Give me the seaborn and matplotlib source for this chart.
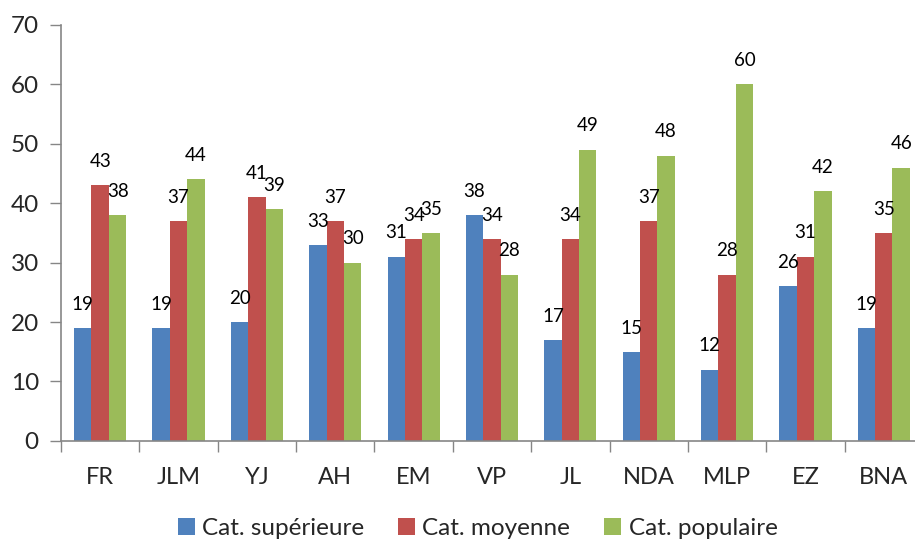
import pandas as pd
import matplotlib.pyplot as plt
import seaborn as sns

candidats = ["FR", "JLM", "YJ", "AH", "EM", "VP", "JL", "NDA", "MLP", "EZ", "BNA"]
cat_superieure = [19, 19, 20, 33, 31, 38, 17, 15, 12, 26, 19]
cat_moyenne = [43, 37, 41, 37, 34, 34, 34, 37, 28, 31, 35]
cat_populaire = [38, 44, 39, 30, 35, 28, 49, 48, 60, 42, 46]
series = ["Cat. supérieure", "Cat. moyenne", "Cat. populaire"]
colors = ["#4F81BD", "#C0504D", "#9BBB59"]


def build_frame():
    rows = []
    for name, values in zip(series, [cat_superieure, cat_moyenne, cat_populaire]):
        for cand, v in zip(candidats, values):
            rows.append({"candidat": cand, "categorie": name, "valeur": v})
    return pd.DataFrame(rows)


if __name__ == "__main__":
    sns.set_style("white")
    plt.rcParams["font.family"] = ["Lato", "DejaVu Sans"]

    df = build_frame()
    fig = plt.figure(figsize=(9.15, 5.43), dpi=100)
    ax = fig.add_axes([0.0667, 0.188, 0.942, 0.766])

    sns.barplot(data=df, x="candidat", y="valeur", hue="categorie",
                order=candidats, hue_order=series, palette=colors,
                width=0.667, gap=0, saturation=1, linewidth=0,
                ax=ax, legend=True)

    for container in ax.containers:
        ax.bar_label(container, padding=11, fontsize=13.5, color="black")

    ax.set_xlim(-0.5, len(candidats) - 0.5)
    ax.set_ylim(0, 70)
    ax.set_yticks(range(0, 71, 10))
    ax.set_xlabel("")
    ax.set_ylabel("")

    # ticks on the x axis sit between categories
    ax.set_xticks([i - 0.5 for i in range(len(candidats) + 1)], minor=True)
    ax.tick_params(axis="x", which="major", length=0, pad=19, labelsize=17)
    ax.tick_params(axis="x", which="minor", length=8, width=1, color="#868686",
                   direction="out", bottom=True)
    ax.tick_params(axis="y", length=8, width=1, color="#868686", direction="out",
                   left=True, labelsize=17.5, pad=8)

    for side in ["top", "right"]:
        ax.spines[side].set_visible(False)
    for side in ["left", "bottom"]:
        ax.spines[side].set_color("#868686")
        ax.spines[side].set_linewidth(1.2)

    handles, labels = ax.get_legend_handles_labels()
    ax.get_legend().remove()
    fig.legend(handles, labels, loc="center", bbox_to_anchor=(0.522, 0.027),
               ncol=3, frameon=False, fontsize=17.5, handlelength=0.7,
               handleheight=0.7, handletextpad=0.3, columnspacing=1.4)

    plt.savefig("out.png", dpi=100)
